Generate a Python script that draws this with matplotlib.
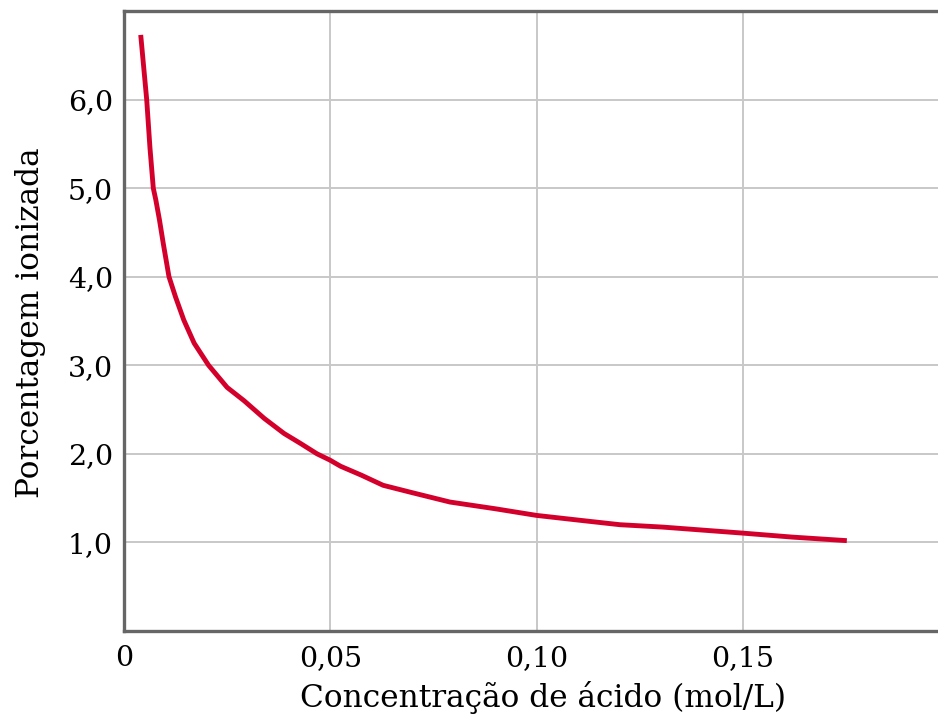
import matplotlib.pyplot as plt

# concentração (mol/L) e porcentagem ionizada
conc = [0.00405, 0.0055, 0.0063, 0.0071, 0.0077, 0.0086, 0.0095, 0.0109,
        0.0125, 0.0145, 0.017, 0.0205, 0.025, 0.0291, 0.034, 0.0388,
        0.0427, 0.0468, 0.0499, 0.0525, 0.0575, 0.0628, 0.07, 0.079,
        0.09, 0.100, 0.1105, 0.1202, 0.1306, 0.14, 0.150, 0.162, 0.1752]
perc = [6.73, 6.0, 5.45, 5.0, 4.87, 4.64, 4.38, 4.0,
        3.77, 3.51, 3.25, 3.0, 2.75, 2.60, 2.40, 2.23,
        2.12, 2.0, 1.93, 1.86, 1.76, 1.645, 1.56, 1.456,
        1.38, 1.305, 1.25, 1.20, 1.173, 1.14, 1.105, 1.06, 1.02]

xticks = [0, 0.05, 0.10, 0.15]
xlabels = ['0', '0,05', '0,10', '0,15']
yticks = [1, 2, 3, 4, 5, 6]
ylabels = ['1,0', '2,0', '3,0', '4,0', '5,0', '6,0']

plt.rcParams['font.family'] = ['DejaVu Serif']

fig = plt.figure(figsize=(9.38, 7.19), dpi=100)
ax = fig.add_axes([0.1322, 0.1224, 0.8678, 0.8623])

ax.plot(conc, perc, color='#d4002c', lw=3.5, solid_capstyle='butt',
        solid_joinstyle='round', zorder=3)

ax.set_xlim(0, 0.1973)
ax.set_ylim(0, 7)
ax.set_xticks(xticks)
ax.set_xticklabels(xlabels)
ax.set_yticks(yticks)
ax.set_yticklabels(ylabels)
ax.tick_params(length=0, labelsize=20.5)
ax.tick_params(axis='y', pad=8)
ax.tick_params(axis='x', pad=10)
ax.grid(True, color='#c8c8c8', lw=1.4)
ax.set_axisbelow(True)

for s in ['left', 'bottom', 'top']:
    ax.spines[s].set_color('#666666')
    ax.spines[s].set_linewidth(2.4)
ax.spines['right'].set_visible(False)

ax.set_xlabel('Concentração de ácido (mol/L)', fontsize=22.5, va='baseline')
ax.xaxis.set_label_coords(0.515, -0.1226)
ax.set_ylabel('Porcentagem ionizada', fontsize=22.5, va='baseline')
ax.yaxis.set_label_coords(-0.104, 0.498)

fig.savefig('out.png', dpi=100)
